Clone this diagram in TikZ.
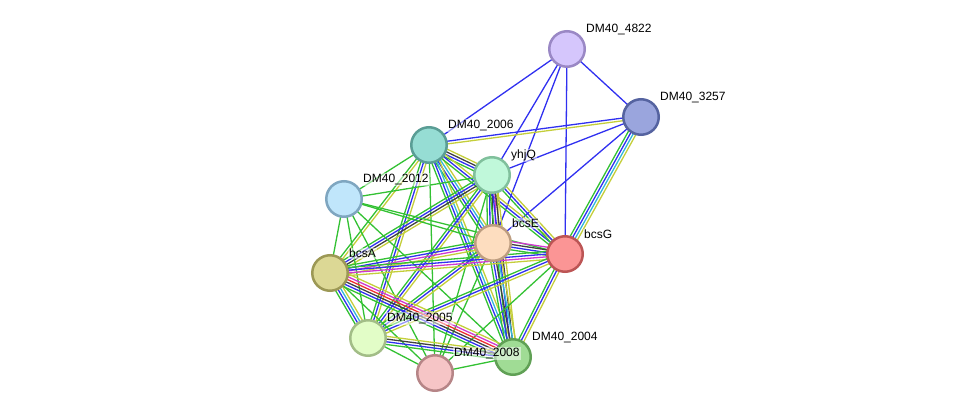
\documentclass[tikz,border=0pt]{standalone}
\usepackage{fontspec}
\setmainfont{Liberation Sans}
\usetikzlibrary{calc,backgrounds}
% evidence channel colours
\definecolor{nbh}{HTML}{33C133}
\definecolor{coo}{HTML}{3030F0}
\definecolor{txm}{HTML}{C4CE3A}
\definecolor{cex}{HTML}{404040}
\definecolor{dbs}{HTML}{33B8D8}
\definecolor{exp}{HTML}{D038D0}
\definecolor{fus}{HTML}{EE3030}
% protein colours
\definecolor{f4822}{HTML}{D5C6FC}\definecolor{d4822}{HTML}{9A88C5}
\definecolor{f3257}{HTML}{9AA5DD}\definecolor{d3257}{HTML}{5563A0}
\definecolor{f2006}{HTML}{96DDD4}\definecolor{d2006}{HTML}{5A9D95}
\definecolor{fyhjQ}{HTML}{C0F8DA}\definecolor{dyhjQ}{HTML}{80C09C}
\definecolor{f2012}{HTML}{C0E6FB}\definecolor{d2012}{HTML}{7FA6C0}
\definecolor{fbcsE}{HTML}{FDDDBF}\definecolor{dbcsE}{HTML}{BD9D80}
\definecolor{fbcsG}{HTML}{FB9595}\definecolor{dbcsG}{HTML}{BC5555}
\definecolor{fbcsA}{HTML}{DCD895}\definecolor{dbcsA}{HTML}{9C9855}
\definecolor{f2005}{HTML}{E2FDC7}\definecolor{d2005}{HTML}{A2BD87}
\definecolor{f2008}{HTML}{F6C5C6}\definecolor{d2008}{HTML}{B68587}
\definecolor{f2004}{HTML}{A0DC95}\definecolor{d2004}{HTML}{60A055}
\tikzset{prot/.style={circle,line width=2.5pt,minimum size=35.5pt,inner sep=0pt,draw=d#1,fill=f#1},
  lab/.style={anchor=west,font=\fontsize{12}{14}\selectfont,inner sep=1pt,fill=white,fill opacity=.5,text opacity=1},
  evline/.style={line width=1.3pt}}
% one parallel line per evidence channel
\newcommand{\ev}[3]{%
  \foreach \c [count=\n] in {#3}{\xdef\nev{\n}}%
  \foreach \c [count=\i] in {#3}{%
    \pgfmathsetmacro\o{(\i-(\nev+1)/2)*2.7}%
    \draw[\c,evline] ($(#1.center)!\o pt!90:(#2.center)$) -- ($(#2.center)!\o pt!-90:(#1.center)$);}}
\begin{document}
\begin{tikzpicture}[x=1pt,y=-1pt]
\useasboundingbox (0,0) rectangle (976,419);
% Proteins.
\foreach \id/\x/\y in {4822/567/49,3257/641/117,2006/429/145,yhjQ/492/175,2012/344/199,bcsE/493/243,
  bcsG/565/254,bcsA/330/273,2005/368/338,2008/435/373,2004/513/357}{
  \node[prot=\id] (p\id) at (\x,\y) {};
}
% Labels, above every protein.
\foreach \id/\txt in {4822/DM40\_4822,3257/DM40\_3257,2006/DM40\_2006,yhjQ/yhjQ,2012/DM40\_2012,
  bcsE/bcsE,bcsG/bcsG,bcsA/bcsA,2005/DM40\_2005,2008/DM40\_2008,2004/DM40\_2004}{
  \node[lab] (l\id) at ([shift={(18,-19.5)}]p\id.center) {\txt};
}
\begin{pgfonlayer}{background}
% Outer proteins.
\ev{p4822}{p2006}{coo}
\ev{p4822}{pyhjQ}{coo}
\ev{p4822}{pbcsE}{coo}
\ev{p4822}{pbcsG}{coo}
\ev{p4822}{p3257}{coo}
\ev{p3257}{p2006}{coo,txm}
\ev{p3257}{pyhjQ}{coo}
\ev{p3257}{pbcsE}{coo}
\ev{p3257}{pbcsG}{nbh,coo,dbs,txm}
% Operon core.
\ev{p2006}{pyhjQ}{nbh,coo,cex,txm}
\ev{p2006}{p2012}{nbh}
\ev{p2006}{pbcsA}{nbh,txm}
\ev{p2006}{pbcsE}{nbh,coo,dbs,txm}
\ev{p2006}{pbcsG}{nbh,coo,txm}
\ev{p2006}{p2005}{nbh,coo,txm}
\ev{p2006}{p2008}{nbh}
\ev{p2006}{p2004}{nbh,coo,dbs,txm}
\ev{pyhjQ}{p2012}{nbh}
\ev{pyhjQ}{pbcsA}{nbh,coo,cex,txm}
\ev{pyhjQ}{pbcsE}{nbh,coo,cex,exp,txm}
\ev{pyhjQ}{pbcsG}{nbh,coo,txm}
\ev{pyhjQ}{p2005}{nbh,coo,txm}
\ev{pyhjQ}{p2008}{nbh}
\ev{pyhjQ}{p2004}{nbh,coo,cex,txm}
\foreach \t in {pbcsA,pbcsE,pbcsG,p2005,p2008,p2004}{\ev{p2012}{\t}{nbh}}
\ev{pbcsE}{pbcsG}{nbh,coo,cex,exp}
\ev{pbcsE}{pbcsA}{nbh,coo,exp,txm}
\ev{pbcsE}{p2005}{nbh,coo,txm}
\ev{pbcsE}{p2008}{nbh}
\ev{pbcsE}{p2004}{nbh,coo,cex,dbs,txm}
\ev{pbcsG}{pbcsA}{nbh,coo,exp,txm}
\ev{pbcsG}{p2005}{nbh,coo,txm}
\ev{pbcsG}{p2008}{nbh}
\ev{pbcsG}{p2004}{nbh,coo,txm}
\ev{pbcsA}{p2005}{nbh,coo,dbs,txm}
\ev{pbcsA}{p2008}{nbh}
\ev{pbcsA}{p2004}{nbh,coo,cex,fus,exp,txm}
\ev{p2005}{p2008}{nbh}
\ev{p2005}{p2004}{nbh,coo,cex,txm}
\ev{p2008}{p2004}{nbh}
\end{pgfonlayer}
\end{tikzpicture}
\end{document}
